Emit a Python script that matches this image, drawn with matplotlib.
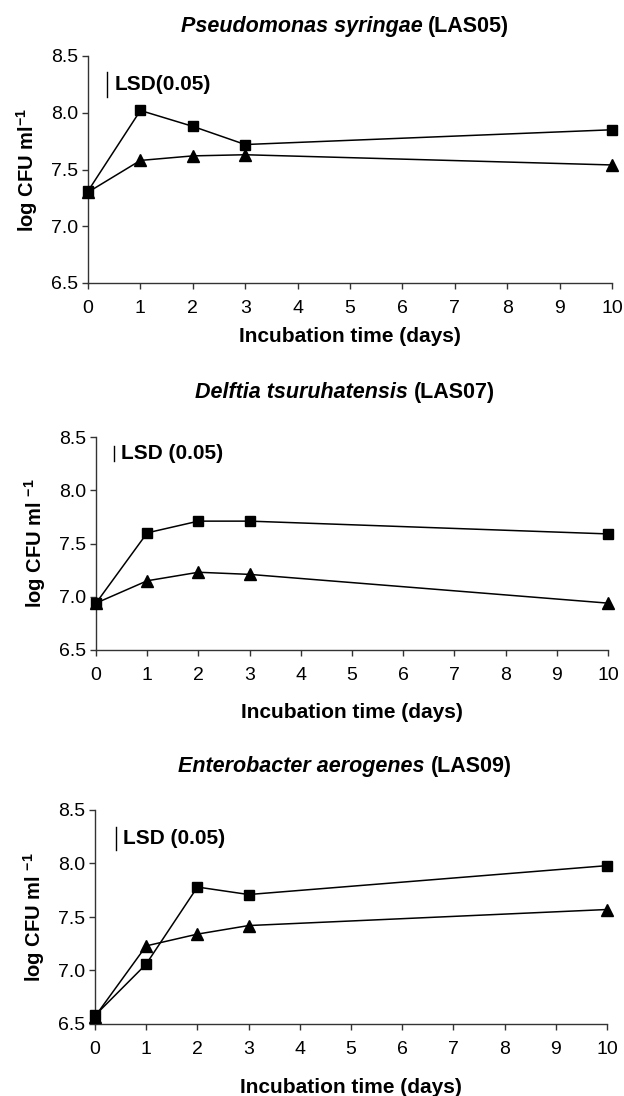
import matplotlib
matplotlib.use("Agg")
import matplotlib.pyplot as plt

plt.rcParams['font.family'] = ['Liberation Sans', 'DejaVu Sans']
plt.rcParams['mathtext.fontset'] = 'custom'
plt.rcParams['mathtext.rm'] = 'Liberation Sans'
plt.rcParams['mathtext.bf'] = 'Liberation Sans:bold'

days = [0, 1, 2, 3, 10]

titles_species = ["Pseudomonas syringae", "Delftia tsuruhatensis", "Enterobacter aerogenes"]
titles_strain = ["(LAS05)", "(LAS07)", "(LAS09)"]

square_las05 = [7.31, 8.02, 7.88, 7.72, 7.85]
triangle_las05 = [7.30, 7.58, 7.62, 7.63, 7.54]
square_las07 = [6.94, 7.60, 7.71, 7.71, 7.59]
triangle_las07 = [6.94, 7.15, 7.23, 7.21, 6.94]
square_las09 = [6.58, 7.06, 7.78, 7.71, 7.98]
triangle_las09 = [6.57, 7.23, 7.34, 7.42, 7.57]

lsd_labels = ["LSD(0.05)", "LSD (0.05)", "LSD (0.05)"]
lsd_bottom = [8.14, 8.27, 8.13]
lsd_top = [8.36, 8.42, 8.34]
lsd_x = [0.36, 0.35, 0.41]

ylabels = ["log CFU ml$^{\\mathbf{-1}}$", "log CFU ml $^{\\mathbf{-1}}$", "log CFU ml $^{\\mathbf{-1}}$"]

xticks = list(range(0, 11))
yticks = [6.5, 7.0, 7.5, 8.0, 8.5]

squares = [square_las05, square_las07, square_las09]
triangles = [triangle_las05, triangle_las07, triangle_las09]

W, H = 624, 1096
fig = plt.figure(figsize=(W / 100, H / 100), dpi=100)
positions = [
    [88 / W, 1 - 283 / H, (612 - 88) / W, (283 - 56) / H],
    [96 / W, 1 - 650 / H, (608 - 96) / W, (650 - 437) / H],
    [95 / W, 1 - 1024 / H, (607 - 95) / W, (1024 - 810) / H],
]
title_baseline = [32, 398, 772]
title_center_x = 345
xlabel_pads = [7.5, 14, 14.5]

renderer = fig.canvas.get_renderer()

for i in range(3):
    ax = fig.add_axes(positions[i])
    ax.plot(days, squares[i], color='black', lw=1.1, marker='s', ms=7,
            markerfacecolor='black', markeredgecolor='black', clip_on=False, zorder=3)
    ax.plot(days, triangles[i], color='black', lw=1.1, marker='^', ms=8,
            markerfacecolor='black', markeredgecolor='black', clip_on=False, zorder=3)
    ax.set_xlim(0, 10)
    ax.set_ylim(6.5, 8.5)
    ax.set_xticks(xticks)
    ax.set_yticks(yticks)
    ax.set_yticklabels([f"{v:.1f}" for v in yticks])
    for s in ['top', 'right']:
        ax.spines[s].set_visible(False)
    for s in ['left', 'bottom']:
        ax.spines[s].set_color('#333333')
        ax.spines[s].set_linewidth(1.0)
    ax.tick_params(axis='both', direction='out', length=4, width=1.0,
                   color='#333333', labelsize=14, pad=3)
    ax.tick_params(axis='x', pad=8)
    ax.set_xlabel("Incubation time (days)", fontsize=15, fontweight='bold',
                  labelpad=xlabel_pads[i])
    ax.set_ylabel(ylabels[i], fontsize=14.5, fontweight='bold', labelpad=8)
    # LSD bar
    ax.plot([lsd_x[i], lsd_x[i]], [lsd_bottom[i], lsd_top[i]], color='black', lw=1.0)
    ax.text(lsd_x[i] + 0.14, (lsd_bottom[i] + lsd_top[i]) / 2, lsd_labels[i],
            fontsize=15, fontweight='bold', va='center', ha='left')
    # Title: species italic bold + strain bold, centred as a whole
    ty = 1 - title_baseline[i] / H
    t1 = fig.text(0, ty, titles_species[i] + " ", fontsize=15.5, fontweight='bold',
                  fontstyle='italic', ha='left', va='baseline')
    t2 = fig.text(0, ty, titles_strain[i], fontsize=15.5, fontweight='bold',
                  ha='left', va='baseline')
    w1 = t1.get_window_extent(renderer).width
    w2 = t2.get_window_extent(renderer).width
    x0 = title_center_x - (w1 + w2) / 2
    t1.set_x(x0 / W)
    t2.set_x((x0 + w1) / W)

fig.savefig("out.png", dpi=100)
